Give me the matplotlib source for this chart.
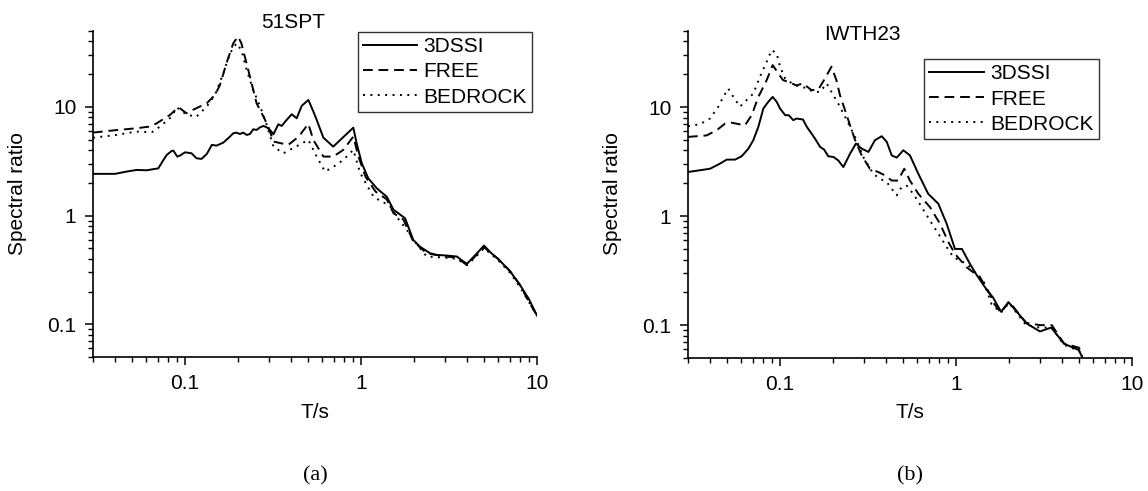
import matplotlib
matplotlib.use("Agg")
import matplotlib.pyplot as plt
from matplotlib.ticker import LogLocator, FixedLocator, FixedFormatter, NullFormatter

plt.rcParams["font.family"] = ["Liberation Sans", "DejaVu Sans"]

# ---- (a) 51SPT ----
a_ssi_T = [0.030, 0.040, 0.0466, 0.0531, 0.0605, 0.0705, 0.0754, 0.0787, 0.0840, 0.0858, 0.0904, 0.0935,
           0.100, 0.109, 0.116, 0.124, 0.133, 0.142, 0.151, 0.165, 0.180, 0.188, 0.196, 0.205, 0.214, 0.224,
           0.234, 0.244, 0.255, 0.267, 0.279, 0.291, 0.304, 0.318, 0.339, 0.354, 0.378, 0.404, 0.431, 0.460,
           0.502, 0.536, 0.560, 0.611, 0.695, 0.904, 0.944, 1.01, 1.10, 1.23, 1.40, 1.53, 1.63, 1.78, 1.98,
           2.16, 2.47, 2.69, 3.0, 3.5, 3.8, 4.0, 4.5, 5.0, 5.5, 6.0, 7.0, 8.0, 9.0, 10.0]
a_ssi_R = [2.42, 2.42, 2.54, 2.63, 2.61, 2.72, 3.25, 3.61, 3.93, 3.96, 3.49, 3.56,
           3.82, 3.74, 3.37, 3.32, 3.69, 4.47, 4.40, 4.69, 5.33, 5.72, 5.80, 5.63, 5.80, 5.52,
           5.63, 6.22, 6.14, 6.49, 6.68, 6.49, 6.14, 5.60, 6.92, 6.68, 7.59, 8.55, 7.86, 10.2,
           11.6, 9.06, 7.59, 5.21, 4.31, 6.44, 4.63, 3.03, 2.20, 1.78, 1.49, 1.13, 1.05, 0.944, 0.597,
           0.518, 0.45, 0.434, 0.43, 0.42, 0.38, 0.36, 0.44, 0.53, 0.45, 0.40, 0.31, 0.23, 0.17, 0.12]

a_free_T = [0.030, 0.040, 0.0531, 0.0634, 0.0690, 0.0821, 0.0917, 0.102, 0.111, 0.133, 0.148, 0.158, 0.172,
            0.188, 0.200, 0.209, 0.224, 0.239, 0.255, 0.279, 0.297, 0.318, 0.386, 0.441, 0.502, 0.536,
            0.611, 0.695, 0.793, 0.904, 0.967, 1.06, 1.21, 1.40, 1.53, 1.74, 1.98, 2.36,
            3.0, 3.5, 4.0, 4.5, 5.0, 6.0, 7.0, 8.0, 9.0, 10.0]
a_free_R = [5.8, 6.1, 6.36, 6.6, 7.06, 8.43, 9.93, 8.74, 9.4, 10.8, 12.9, 15.9, 25.2,
            38.5, 44.4, 38.5, 25.0, 16.5, 10.8, 8.14, 6.6, 4.80, 4.47, 5.3, 6.97, 4.97,
            3.49, 3.49, 4.02, 5.33, 3.49, 2.28, 1.66, 1.41, 1.05, 0.92, 0.58, 0.45,
            0.42, 0.41, 0.35, 0.43, 0.51, 0.40, 0.31, 0.23, 0.16, 0.12]

a_rock_T = [0.030, 0.040, 0.0531, 0.0648, 0.0722, 0.0840, 0.0897, 0.102, 0.116, 0.133, 0.148, 0.165, 0.180,
            0.196, 0.209, 0.224, 0.244, 0.267, 0.285, 0.318, 0.362, 0.414, 0.502, 0.560, 0.624, 0.695,
            0.793, 0.904, 0.986, 1.08, 1.18, 1.31, 1.45, 1.59, 1.82, 1.98, 2.36,
            3.0, 3.5, 4.0, 4.5, 5.0, 6.0, 7.0, 8.0, 9.0, 10.0]
a_rock_R = [5.2, 5.5, 5.93, 5.85, 6.6, 8.14, 9.9, 8.5, 8.1, 10.1, 12.9, 20.4, 31.1,
            38.5, 33.4, 21.9, 14.3, 10.1, 7.6, 4.31, 3.74, 4.2, 4.97, 3.49, 2.54, 2.8,
            3.25, 4.02, 2.5, 1.9, 1.49, 1.34, 1.25, 0.98, 0.74, 0.6, 0.42,
            0.41, 0.40, 0.35, 0.42, 0.50, 0.39, 0.30, 0.22, 0.16, 0.12]

# ---- (b) IWTH23 ----
b_ssi_T = [0.030, 0.040, 0.0456, 0.0498, 0.0555, 0.0605, 0.0661, 0.0705, 0.0753, 0.0804, 0.0858, 0.0908,
           0.0957, 0.100, 0.107, 0.112, 0.119, 0.124, 0.135, 0.142, 0.151, 0.158, 0.169, 0.178, 0.188,
           0.201, 0.214, 0.229, 0.250, 0.270, 0.291, 0.318, 0.346, 0.378, 0.404, 0.431, 0.460, 0.502,
           0.547, 0.611, 0.695, 0.793, 0.885, 0.986, 1.08, 1.20, 1.30, 1.42, 1.53, 1.62, 1.80, 1.99,
           2.53, 3.0, 3.47, 4.11, 4.99, 5.2]
b_ssi_R = [2.54, 2.72, 3.03, 3.30, 3.30, 3.54, 4.16, 4.97, 6.59, 9.71, 11.2, 12.4,
           11.2, 9.71, 8.43, 8.43, 7.59, 7.86, 7.7, 6.59, 5.72, 5.14, 4.31, 4.08, 3.54,
           3.49, 3.25, 2.82, 3.74, 4.63, 4.16, 3.88, 4.97, 5.41, 4.80, 3.61, 3.44, 4.02,
           3.61, 2.44, 1.60, 1.30, 0.85, 0.50, 0.50, 0.364, 0.294, 0.238, 0.20, 0.18, 0.133, 0.162,
           0.103, 0.0875, 0.095, 0.0675, 0.059, 0.051]

b_free_T = [0.030, 0.0383, 0.0437, 0.0487, 0.0531, 0.0579, 0.0632, 0.069, 0.0753, 0.084, 0.0908, 0.0977,
            0.104, 0.114, 0.124, 0.135, 0.151, 0.165, 0.180, 0.196, 0.209, 0.219, 0.234, 0.250, 0.267,
            0.291, 0.324, 0.361, 0.394, 0.431, 0.468, 0.508, 0.547, 0.611, 0.711, 0.811, 0.904, 0.986,
            1.15, 1.37, 1.56, 1.63, 1.8, 2.0, 2.5, 3.0, 3.5, 4.1, 5.0, 5.2]
b_free_R = [5.33, 5.5, 6.14, 7.06, 7.2, 7.0, 6.8, 8.43, 12.4, 17.7, 24.3, 20.4,
            17.7, 16.8, 15.8, 16.5, 14.3, 14.5, 18.3, 23.5, 17.7, 12.9, 9.38, 6.8, 4.97,
            3.61, 2.72, 2.54, 2.37, 2.12, 2.12, 2.72, 2.12, 1.60, 1.21, 0.85, 0.58, 0.45,
            0.339, 0.274, 0.193, 0.16, 0.13, 0.165, 0.105, 0.10, 0.10, 0.068, 0.062, 0.052]

b_rock_T = [0.030, 0.0351, 0.040, 0.0446, 0.0476, 0.0508, 0.0543, 0.0592, 0.0646, 0.0705, 0.0769, 0.084,
            0.0896, 0.0957, 0.100, 0.107, 0.117, 0.130, 0.142, 0.154, 0.169, 0.184, 0.196, 0.214, 0.229,
            0.250, 0.272, 0.297, 0.339, 0.370, 0.404, 0.460, 0.491, 0.525, 0.572, 0.638, 0.711, 0.793,
            0.885, 0.966, 1.15, 1.43, 1.59, 1.8, 2.0, 2.5, 3.0, 3.5, 4.1, 5.0, 5.2]
b_rock_R = [6.68, 6.97, 7.86, 10.1, 12.4, 14.8, 12.4, 10.1, 11.6, 13.3, 19.0, 26.1,
            33.4, 31.1, 23.5, 18.3, 16.5, 15.3, 15.0, 13.8, 13.8, 16.5, 13.8, 10.8, 8.74,
            6.6, 4.97, 3.49, 2.44, 2.20, 2.05, 1.55, 1.85, 1.90, 1.60, 1.21, 0.91, 0.69,
            0.52, 0.42, 0.364, 0.256, 0.156, 0.13, 0.16, 0.10, 0.095, 0.095, 0.066, 0.058, 0.05]

names = ["3DSSI", "FREE", "BEDROCK"]
styles = ["-", (0, (5, 3)), (0, (1, 2.8))]

panels = [
    ("51SPT", "(a)", [(a_ssi_T, a_ssi_R), (a_free_T, a_free_R), (a_rock_T, a_rock_R)]),
    ("IWTH23", "(b)", [(b_ssi_T, b_ssi_R), (b_free_T, b_free_R), (b_rock_T, b_rock_R)]),
]

FS = 15

fig = plt.figure(figsize=(11.48, 4.91), dpi=100)
axes = [fig.add_axes([0.081, 0.273, 0.3868, 0.664]),
        fig.add_axes([0.5993, 0.271, 0.3868, 0.666])]

leg_anchor = [(0.597, 0.997), (0.532, 0.914)]
title_pos = [(0.255, 0.955), (0.751, 0.929)]

for i, (ax, (title, tag, series)) in enumerate(zip(axes, panels)):
    for (T, R), name, ls in zip(series, names, styles):
        ax.plot(T, R, color="black", lw=1.4, linestyle=ls, label=name)
    ax.set_xscale("log")
    ax.set_yscale("log")
    ax.set_xlim(0.03, 10)
    ax.set_ylim(0.05, 50)
    for s in ("top", "right"):
        ax.spines[s].set_visible(False)
    for s in ("left", "bottom"):
        ax.spines[s].set_linewidth(1.2)
    ax.xaxis.set_major_locator(FixedLocator([0.1, 1, 10]))
    ax.xaxis.set_major_formatter(FixedFormatter(["0.1", "1", "10"]))
    ax.yaxis.set_major_locator(FixedLocator([0.1, 1, 10]))
    ax.yaxis.set_major_formatter(FixedFormatter(["0.1", "1", "10"]))
    for axis in (ax.xaxis, ax.yaxis):
        axis.set_minor_locator(LogLocator(base=10, subs=range(2, 10)))
        axis.set_minor_formatter(NullFormatter())
    ax.tick_params(which="major", direction="out", length=6, width=1.1, labelsize=FS, pad=6)
    ax.tick_params(which="minor", direction="out", length=3.5, width=1.0)

    leg = ax.legend(loc="upper left", bbox_to_anchor=leg_anchor[i], fontsize=FS,
                    frameon=True, fancybox=False, borderaxespad=0, handlelength=2.6,
                    handletextpad=0.3, labelspacing=0.3, borderpad=0.25)
    leg.get_frame().set_edgecolor("black")
    leg.get_frame().set_linewidth(1.0)

    x0 = ax.get_position().x0
    xc = x0 + ax.get_position().width / 2
    fig.text(title_pos[i][0], title_pos[i][1], title, ha="center", va="center", fontsize=FS)
    fig.text(x0 - 0.0655, 0.605, "Spectral ratio", rotation=90, ha="center", va="center", fontsize=FS)
    fig.text(xc, 1 - 413 / 491, "T/s", ha="center", va="center", fontsize=FS)
    fig.text(xc, 1 - 476 / 491, tag, ha="center", va="center", fontsize=16,
             family=["Liberation Serif", "DejaVu Serif"])

fig.savefig("out.png", dpi=100)
